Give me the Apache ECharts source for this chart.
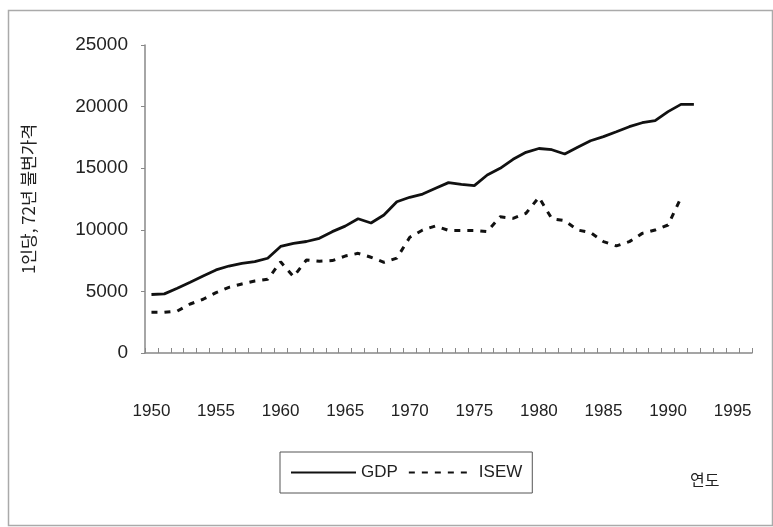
<!DOCTYPE html>
<html>
<head>
<meta charset="utf-8">
<script src="https://cdn.jsdelivr.net/npm/echarts@6/dist/echarts.min.js"></script>
<style>html,body{margin:0;padding:0;background:#fff;}#c{width:773px;height:527px;}</style>
</head>
<body>
<div id="c"></div>
<script>
// categories: years on the x axis
const years = [];
for (let y = 1950; y <= 1996; y++) years.push(String(y));

const gdp = [4750, 4800, 5250, 5740, 6250, 6740, 7060, 7280, 7410, 7690,
  8650, 8900, 9050, 9310, 9850, 10300, 10900, 10550, 11200, 12280,
  12640, 12900, 13370, 13830, 13690, 13580, 14450, 14990, 15720, 16290,
  16600, 16500, 16150, 16700, 17230, 17560, 17960, 18370, 18690, 18860,
  19590, 20180, 20180];

const isew = [3300, 3300, 3400, 3980, 4360, 4900, 5330, 5600, 5840, 5980,
  7400, 6200, 7550, 7450, 7500, 7870, 8090, 7770, 7360, 7700,
  9390, 9980, 10310, 9950, 9950, 9950, 9850, 11060, 10930, 11340,
  12640, 10900, 10740, 9980, 9770, 9040, 8690, 9040, 9710, 9980,
  10390, 12600];

const seriesNames = ['GDP', 'ISEW'];
const yAxisTitle = '1인당, 72년 불변가격';
const xAxisTitle = '연도';

const chart = echarts.init(document.getElementById('c'), null, {renderer: 'canvas'});
const txt = '#222';
chart.setOption({
  backgroundColor: '#fff',
  animation: false,
  grid: {left: 145, right: 21, top: 45, bottom: 174},
  legend: {
    left: 280, top: 452,
    data: seriesNames,
    itemWidth: 65, itemHeight: 14, itemGap: 10,
    padding: [12, 10, 12, 10],
    borderColor: '#555', borderWidth: 1,
    itemStyle: {opacity: 0},
    textStyle: {color: txt, fontSize: 17, fontFamily: 'Liberation Sans, Arial'}
  },
  xAxis: {
    type: 'category',
    data: years,
    boundaryGap: true,
    axisLine: {lineStyle: {color: '#888', width: 1.5}},
    axisTick: {show: true, inside: true, length: 5, interval: 0, lineStyle: {color: '#888'}},
    axisLabel: {interval: 4, margin: 50, color: txt, fontSize: 17, fontFamily: 'Liberation Sans, Arial'},
    splitLine: {show: false}
  },
  yAxis: {
    type: 'value', min: 0, max: 25000, interval: 5000,
    name: yAxisTitle, nameLocation: 'middle', nameGap: 108, nameRotate: 90,
    nameTextStyle: {color: txt, fontSize: 17, fontFamily: 'Noto Sans CJK KR'},
    axisLine: {show: true, lineStyle: {color: '#888', width: 1.5}},
    axisTick: {show: true, length: 4, lineStyle: {color: '#888'}},
    axisLabel: {margin: 17, color: txt, fontSize: 19, fontFamily: 'Liberation Sans, Arial',
      formatter: function (v) { return String(v); }},
    splitLine: {show: false}
  },
  series: [
    {name: seriesNames[0], type: 'line', data: gdp, symbol: 'none',
      lineStyle: {color: '#111', width: 2.8}, itemStyle: {color: '#111'}},
    {name: seriesNames[1], type: 'line', data: isew, symbol: 'none',
      lineStyle: {color: '#111', width: 3, type: [6, 7]}, itemStyle: {color: '#111'}}
  ],
  graphic: [
    {type: 'rect', left: 6, top: 8, shape: {width: 764, height: 515},
      style: {fill: 'none', stroke: '#aaa', lineWidth: 1.5}, silent: true},
    {type: 'text', left: 690, top: 472,
      style: {text: xAxisTitle, fill: txt, fontSize: 16, fontFamily: 'Noto Sans CJK KR'}}
  ]
});
</script>
</body>
</html>
